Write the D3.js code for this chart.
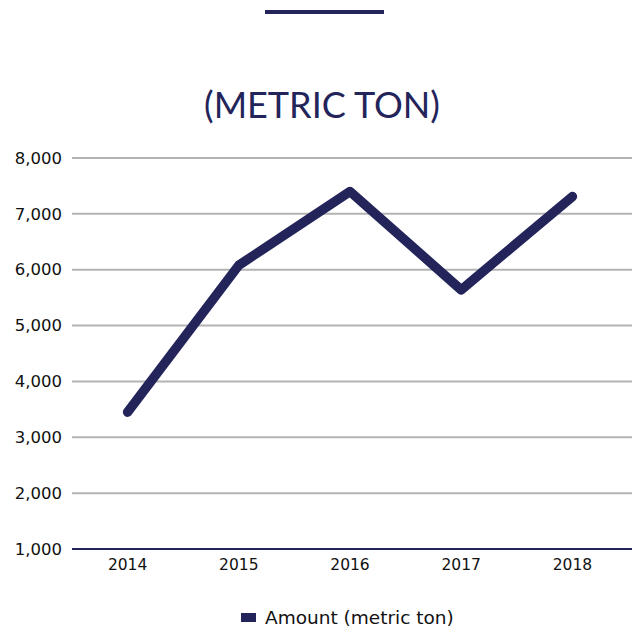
<!DOCTYPE html>
<html>
<head>
<meta charset="utf-8">
<script src="https://cdn.jsdelivr.net/npm/d3@7"></script>
<style>
  body { margin: 0; background: #fff; }
  text { font-family: "DejaVu Sans", sans-serif; }
</style>
</head>
<body>
<svg id="chart" width="640" height="632"></svg>
<script>
var years = ["2014", "2015", "2016", "2017", "2018"];
var amounts = [3450, 6080, 7400, 5640, 7310];
var yTicks = [1000, 2000, 3000, 4000, 5000, 6000, 7000, 8000];
var titleText = "(METRIC TON)";
var legendLabel = "Amount (metric ton)";

var navy = "#23245a";
var svg = d3.select("#chart");

// top decorative bar
svg.append("line")
  .attr("x1", 265).attr("x2", 384)
  .attr("y1", 12).attr("y2", 12)
  .attr("stroke", navy)
  .attr("stroke-width", 4);

svg.append("text")
  .attr("x", 322).attr("y", 118)
  .attr("text-anchor", "middle")
  .attr("font-size", "36px")
  .attr("fill", navy)
  .style("font-family", "Lato, sans-serif")
  .text(titleText);

var x = d3.scaleBand().domain(years).range([72, 628]);
var y = d3.scaleLinear().domain([1000, 8000]).range([549, 158]);

// gridlines
svg.append("g").selectAll("line")
  .data(yTicks.filter(d => d > 1000))
  .join("line")
  .attr("x1", 72).attr("x2", 632)
  .attr("y1", d => y(d)).attr("y2", d => y(d))
  .attr("stroke", "#b3b3b3")
  .attr("stroke-width", 2);

// y axis labels
var yAxis = svg.append("g")
  .attr("transform", "translate(72,0)")
  .call(d3.axisLeft(y).tickValues(yTicks).tickFormat(d3.format(",")).tickSize(0).tickPadding(10));
yAxis.select(".domain").remove();
yAxis.selectAll("text")
  .attr("font-size", "16.5px")
  .attr("fill", "#111")
  .style("font-family", "DejaVu Sans, sans-serif");

// baseline
svg.append("line")
  .attr("x1", 72).attr("x2", 632)
  .attr("y1", y(1000)).attr("y2", y(1000))
  .attr("stroke", navy)
  .attr("stroke-width", 2);

// x axis labels
var xAxis = svg.append("g")
  .attr("transform", "translate(0," + y(1000) + ")")
  .call(d3.axisBottom(x).tickSize(0).tickPadding(10));
xAxis.select(".domain").remove();
xAxis.selectAll("text")
  .attr("font-size", "15.5px")
  .attr("fill", "#111")
  .style("font-family", "DejaVu Sans, sans-serif");

// the line
var line = d3.line()
  .x((d, i) => x(years[i]) + x.bandwidth() / 2)
  .y(d => y(d));

svg.append("path")
  .datum(amounts)
  .attr("d", line)
  .attr("fill", "none")
  .attr("stroke", navy)
  .attr("stroke-width", 9.5)
  .attr("stroke-linecap", "round")
  .attr("stroke-linejoin", "round");

// legend
svg.append("rect")
  .attr("x", 241).attr("y", 613)
  .attr("width", 15).attr("height", 9)
  .attr("fill", navy);
svg.append("text")
  .attr("x", 265).attr("y", 624)
  .attr("font-size", "18.5px")
  .attr("fill", "#111")
  .text(legendLabel);
</script>
</body>
</html>
